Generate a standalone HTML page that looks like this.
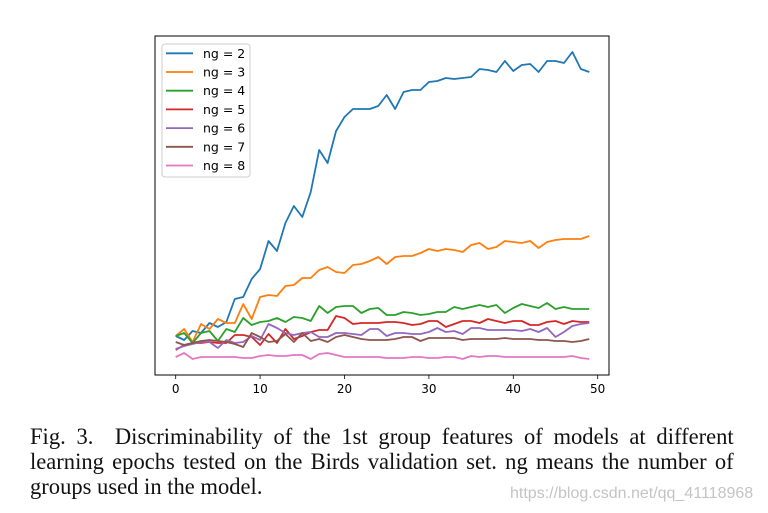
<!DOCTYPE html>
<html><head><meta charset="utf-8"><style>
body{margin:0;width:768px;height:513px;background:#fff;overflow:hidden;position:relative}
#cap{position:absolute;left:30px;top:425px;width:733px;transform:scaleX(0.96);transform-origin:0 0;font-family:"Liberation Serif",serif;font-size:23.5px;line-height:25px;color:#111}
#cap div{text-align:justify;text-align-last:justify;white-space:nowrap}
#cap div.last{text-align-last:left}
#wm{position:absolute;left:510px;top:485px;width:300px;font-family:"Liberation Sans",sans-serif;font-size:16px;color:#c4c4c4}
</style></head><body>
<svg id="chart" width="768" height="420" style="position:absolute;left:0;top:0" font-family="DejaVu Sans, sans-serif"></svg>
<div id="cap"><div>Fig. 3.&nbsp; Discriminability of the 1st group features of models at different</div><div>learning epochs tested on the Birds validation set. ng means the number of</div><div class="last">groups used in the model.</div></div>
<div id="wm">https://blog.csdn.net/qq_41118968</div>
<script>
const xTicks=[0,10,20,30,40,50];
const names=["ng = 2","ng = 3","ng = 4","ng = 5","ng = 6","ng = 7","ng = 8"];
const colors=["#1f77b4","#ff7f0e","#2ca02c","#d62728","#9467bd","#8c564b","#e377c2"];
const ng2=[39,35,44,42,52,48,53,76,78,96,106,134,124,152,169,158,183,225,212,244,258,266,266,266,269,280,266,283,285,285,293,294,297,296,297,298,306,305,303,314,304,310,311,303,314,314,312,323,306,303];
const ng3=[39,46,33,51,46,56,52,52,71,56,78,80,79,89,90,97,97,105,108,103,102,110,111,114,118,111,118,119,119,122,126,124,126,125,123,130,132,126,128,134,133,132,134,127,133,135,136,136,136,139];
const ng4=[39,42,32,42,44,34,46,43,57,50,53,54,57,53,58,57,54,69,62,68,69,69,62,66,67,60,60,63,62,60,61,63,63,68,66,68,70,68,70,62,67,71,69,67,72,66,68,66,66,66];
const ng5=[25,30,32,32,33,32,32,40,40,38,30,41,32,46,36,39,43,45,45,59,57,51,52,52,52,53,53,52,50,51,54,54,48,51,54,54,52,56,54,52,54,54,50,50,53,54,51,54,53,53];
const ng6=[26,29,31,33,33,27,35,32,33,39,35,51,47,42,40,42,43,38,38,42,42,41,40,46,46,39,42,42,41,41,43,47,43,44,41,47,47,45,45,45,45,44,46,43,47,38,43,49,51,52];
const ng7=[33,30,32,34,35,34,33,31,28,42,38,33,34,41,33,42,34,36,33,38,40,38,36,35,35,35,36,38,38,34,37,37,37,37,35,36,36,36,36,37,36,36,36,35,35,34,34,33,34,36];
const ng8=[18,22,16,18,18,18,18,18,17,17,19,20,19,19,20,20,16,21,22,20,18,18,18,18,18,17,17,17,18,18,17,17,18,18,16,19,18,19,19,18,18,18,18,18,18,18,18,19,17,16];
const series=[ng2,ng3,ng4,ng5,ng6,ng7,ng8];
const NS="http://www.w3.org/2000/svg",svg=document.getElementById('chart');
const L=155,R=609,T=36,B=375;
const xs=v=>175.7+v*(597.7-175.7)/50;
const ys=v=>B-v;
function mk(t,a){const e=document.createElementNS(NS,t);for(const k in a)e.setAttribute(k,a[k]);svg.appendChild(e);return e;}
series.forEach((s,i)=>{
  const p=mk('polyline',{points:s.map((v,j)=>xs(j)+','+ys(v)).join(' '),fill:'none',stroke:colors[i],'stroke-width':1.8,'stroke-linejoin':'round'});
  
  
});
const fr=mk('rect',{x:L,y:T,width:R-L,height:B-T,fill:'none',stroke:'#000','stroke-width':1});


xTicks.forEach(t=>{
  mk('line',{x1:xs(t),x2:xs(t),y1:B,y2:B+4,stroke:'#000','stroke-width':0.8});
  const tx=mk('text',{x:xs(t),y:B+18,'text-anchor':'middle','font-size':12,fill:'#000'});
  tx.textContent=t;
  
  
});
const lg=mk('rect',{x:162,y:44,width:88,height:133,rx:3,fill:'#fff','fill-opacity':0.8,stroke:'#ccc'});


names.forEach((n,i)=>{
  const y=53.3+i*18.7;
  mk('line',{x1:166,x2:193,y1:y,y2:y,stroke:colors[i],'stroke-width':1.8});
  const t=mk('text',{x:203,y:y+4.5,'font-size':12.5,fill:'#000'});
  t.textContent=n;
  
  
});
</script>
</body></html>
